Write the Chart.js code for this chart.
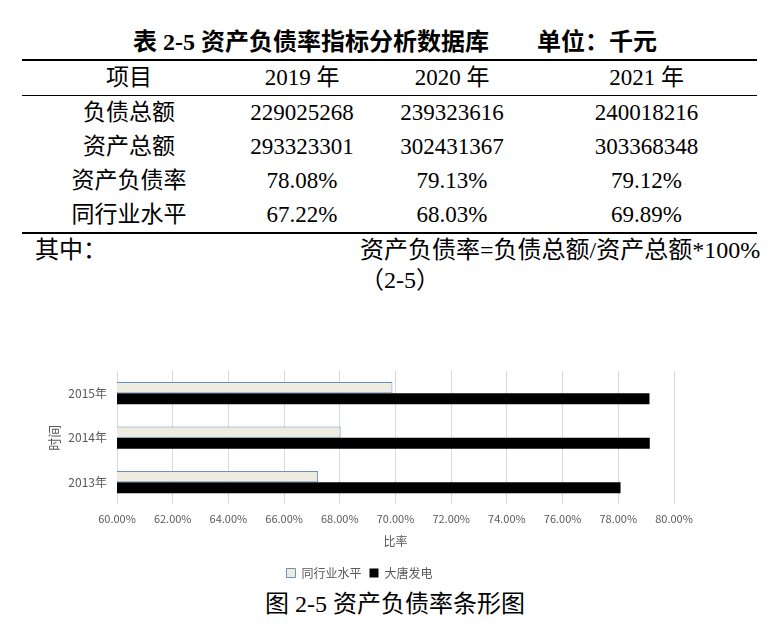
<!DOCTYPE html>
<html lang="zh">

<head>
    <meta charset="UTF-8">
    <title>资产负债率条形图</title>
    <style>
        body {
            margin: 0;
            width: 778px;
            height: 639px;
            position: relative;
            background: #fff;
            font-family: "Liberation Serif", "Noto Sans CJK SC", serif;
            color: #000;
        }

        #title {
            position: absolute;
            left: 0;
            width: 790px;
            top: 28px;
            line-height: 28px;
            text-align: center;
            font-size: 24px;
            font-weight: bold;
            white-space: pre;
        }

        #tbl {
            position: absolute;
            left: 22px;
            top: 59px;
            width: 735px;
            border-collapse: collapse;
            border-top: 2px solid #000;
            border-bottom: 2px solid #000;
            font-size: 23px;
            table-layout: fixed;
        }

        #tbl td {
            text-align: center;
            padding: 0;
            height: 34px;
            line-height: 34px;
        }

        #tbl tr.head td {
            border-bottom: 1px solid #000;
        }

        .note {
            position: absolute;
            font-size: 24px;
            white-space: pre;
            line-height: 28px;
        }

        #chartBox {
            position: absolute;
            left: 0;
            top: 360px;
            width: 778px;
            height: 229px;
        }

        #caption {
            position: absolute;
            left: 0;
            width: 790px;
            top: 590px;
            line-height: 28px;
            text-align: center;
            font-size: 24px;
            white-space: pre;
        }
    </style>
</head>

<body>

    <div id="title">表 2-5 资产负债率指标分析数据库　　单位：千元</div>

    <table id="tbl">
        <colgroup>
            <col style="width:214px">
            <col style="width:132px">
            <col style="width:168px">
            <col style="width:221px">
        </colgroup>
        <tbody id="tblBody"></tbody>
    </table>

    <div class="note" style="left:35px; top:236px;">其中：</div>
    <div class="note" style="left:360px; top:236px;">资产负债率=负债总额/资产总额*100%</div>
    <div class="note" style="left:360px; top:266px;">（2-5）</div>

    <div id="chartBox">
        <canvas id="myChart"></canvas>
    </div>

    <div id="caption">图 2-5 资产负债率条形图</div>

    <script src="https://cdn.jsdelivr.net/npm/chart.js"></script>

    <script>
        // 表格数据
        const tableYears = ['2019 年', '2020 年', '2021 年'];
        const totalDebt = [229025268, 239323616, 240018216];
        const totalAssets = [293323301, 302431367, 303368348];
        const debtRatio = ['78.08%', '79.13%', '79.12%'];
        const industryRatio = ['67.22%', '68.03%', '69.89%'];

        // 图表数据 (从上到下)
        const years = ['2015年', '2014年', '2013年'];
        const industryLevel = [69.89, 68.03, 67.22];
        const datang = [79.12, 79.13, 78.08];
        const xMin = 60;
        const xMax = 80;
        const xStep = 2;

        const rows = [
            ['项目'].concat(tableYears),
            ['负债总额'].concat(totalDebt),
            ['资产总额'].concat(totalAssets),
            ['资产负债率'].concat(debtRatio),
            ['同行业水平'].concat(industryRatio),
        ];
        const tbody = document.getElementById('tblBody');
        rows.forEach(function (r, i) {
            const tr = document.createElement('tr');
            if (i === 0) tr.className = 'head';
            r.forEach(function (v) {
                const td = document.createElement('td');
                td.textContent = v;
                tr.appendChild(td);
            });
            tbody.appendChild(tr);
        });

        const cjk = '"Noto Sans CJK SC", sans-serif';
        const grey = '#595959';

        new Chart(document.getElementById('myChart'), {
            type: 'bar',
            data: {
                labels: years,
                datasets: [{
                    label: '同行业水平',
                    data: industryLevel,
                    backgroundColor: '#EEECE1',
                    borderColor: '#6A8FC4',
                    borderWidth: 1,
                    borderSkipped: false
                }, {
                    label: '大唐发电',
                    data: datang,
                    backgroundColor: '#000000',
                    borderWidth: 0
                }]
            },
            options: {
                indexAxis: 'y',
                responsive: true,
                maintainAspectRatio: false,
                animation: false,
                layout: { padding: { left: 45, right: 104, top: 11, bottom: 0 } },
                datasets: { bar: { categoryPercentage: 0.5, barPercentage: 1.0 } },
                scales: {
                    x: {
                        min: xMin,
                        max: xMax,
                        ticks: {
                            stepSize: xStep,
                            padding: 8,
                            color: grey,
                            font: { family: cjk, size: 11 },
                            callback: function (v) { return v.toFixed(2) + '%'; }
                        },
                        grid: { color: '#d9d9d9', drawTicks: false },
                        border: { display: false },
                        title: {
                            display: true,
                            text: '比率',
                            color: grey,
                            font: { family: cjk, size: 12 },
                            padding: { top: 1, bottom: 10 }
                        }
                    },
                    y: {
                        ticks: { padding: 10, color: grey, font: { family: cjk, size: 12 } },
                        grid: { display: false, drawTicks: false },
                        border: { display: false },
                        title: {
                            display: true,
                            text: '时间',
                            color: grey,
                            font: { family: cjk, size: 13 },
                            padding: { top: 1, bottom: 2 }
                        },
                        afterFit: function (scale) {
                            scale.width = 72;
                            scale.paddingTop = 0;
                            scale.paddingBottom = 0;
                        }
                    }
                },
                plugins: {
                    legend: {
                        position: 'bottom',
                        labels: {
                            boxWidth: 9,
                            boxHeight: 9,
                            padding: 8,
                            color: grey,
                            font: { family: cjk, size: 12 }
                        }
                    },
                    tooltip: { enabled: false }
                }
            }
        });
    </script>
</body>

</html>
